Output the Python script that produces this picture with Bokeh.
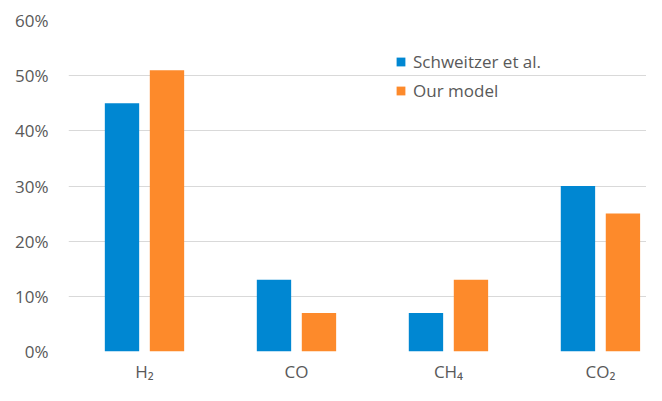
from bokeh.plotting import figure
from bokeh.models import ColumnDataSource, Legend, LegendItem, FixedTicker, NumeralTickFormatter
from bokeh.embed import file_html
from bokeh.resources import INLINE

categories = ["H\u2082", "CO", "CH\u2084", "CO\u2082"]
schweitzer = [0.45, 0.13, 0.07, 0.30]
our_model = [0.51, 0.07, 0.13, 0.25]
y_ticks = [0, 0.1, 0.2, 0.3, 0.4, 0.5, 0.6]
series_names = ["Schweitzer et al.", "Our model"]

FONT = "Open Sans"
GREY = "#595959"

idx = list(range(len(categories)))
off = 0.148
src = ColumnDataSource(dict(
    x1=[i - off for i in idx], x2=[i + off for i in idx],
    s=schweitzer, m=our_model))

p = figure(width=646, height=385, output_backend="svg", toolbar_location=None,
           x_range=(-0.5, 3.303), y_range=(0, 0.6))
p.min_border_left = 68
p.min_border_right = 0
p.min_border_top = 20
p.min_border_bottom = 32
p.outline_line_color = None
p.background_fill_color = "white"
p.border_fill_color = "white"

r1 = p.vbar(x="x1", top="s", width=0.226, source=src, fill_color="#0087d2", line_color=None)
r2 = p.vbar(x="x2", top="m", width=0.226, source=src, fill_color="#fd8a2b", line_color=None)

p.xgrid.grid_line_color = None
p.ygrid.grid_line_color = "#d9d9d9"
p.ygrid.grid_line_width = 1
p.yaxis.ticker = FixedTicker(ticks=y_ticks)
p.yaxis.formatter = NumeralTickFormatter(format="0%")
p.yaxis.axis_line_color = None
p.yaxis.major_tick_line_color = None
p.yaxis.minor_tick_line_color = None
p.yaxis.major_tick_out = 0
p.yaxis.major_tick_in = 0
p.yaxis.minor_tick_out = 0
p.yaxis.major_label_standoff = 20
p.yaxis.major_label_text_font = FONT
p.yaxis.major_label_text_font_size = "17px"
p.yaxis.major_label_text_color = GREY

p.xaxis.ticker = FixedTicker(ticks=idx)
p.xaxis.major_label_overrides = {i: c for i, c in zip(idx, categories)}
p.xaxis.axis_line_color = None
p.xaxis.major_tick_line_color = None
p.xaxis.minor_tick_line_color = None
p.xaxis.major_tick_out = 0
p.xaxis.major_tick_in = 0
p.xaxis.minor_tick_out = 0
p.xaxis.major_label_standoff = 8
p.xaxis.major_label_text_font = FONT
p.xaxis.major_label_text_font_size = "17px"
p.xaxis.major_label_text_color = GREY

legend = Legend(items=[LegendItem(label=series_names[0], renderers=[r1]),
                       LegendItem(label=series_names[1], renderers=[r2])],
                location=(327, 249))
legend.glyph_width = 11
legend.glyph_height = 11
legend.label_height = 20
legend.spacing = 6
legend.label_standoff = 7
legend.padding = 0
legend.margin = 0
legend.border_line_color = None
legend.background_fill_alpha = 0
legend.label_text_font = FONT
legend.label_text_font_size = "17px"
legend.label_text_color = GREY
p.add_layout(legend, "center")

open("out.html", "w").write(file_html(p, INLINE))
